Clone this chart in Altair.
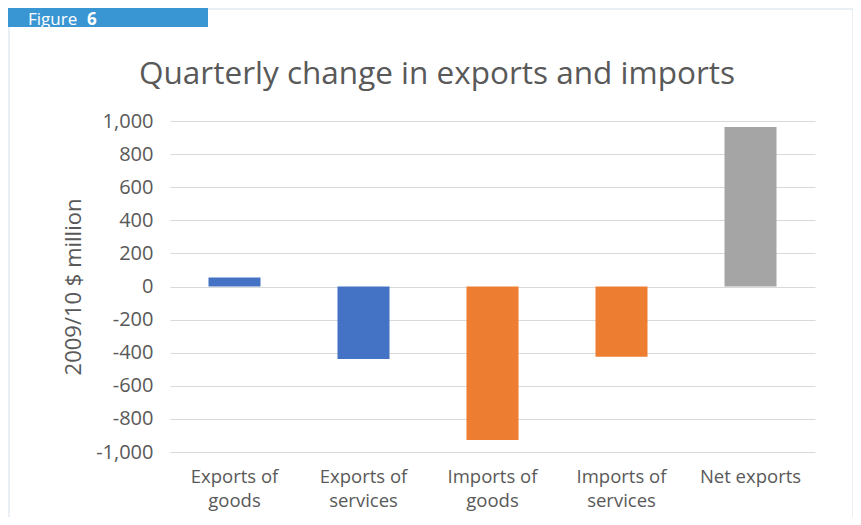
import altair as alt
import pandas as pd

categories = ["Exports of\ngoods", "Exports of\nservices", "Imports of\ngoods", "Imports of\nservices", "Net exports"]
values = [55, -438, -927, -425, 964]
colors = ["#4472C4", "#4472C4", "#ED7D31", "#ED7D31", "#A5A5A5"]
y_ticks = [-1000, -800, -600, -400, -200, 0, 200, 400, 600, 800, 1000]
title_text = "Quarterly change in exports and imports"

df = pd.DataFrame({"cat": categories, "val": values, "col": colors})

FONT = "Open Sans"
TXT = "#595959"
PL, PT, W, H = 162, 113, 645, 331

one = pd.DataFrame({"a": [0]})

frame = alt.Chart(one).mark_rect(fill="transparent", stroke="#E4EAF3", strokeWidth=1.5, clip=False).encode(
    x=alt.value(-PL + 1), x2=alt.value(W + 38), y=alt.value(-PT + 1), y2=alt.value(H + 80)
)
badge = alt.Chart(one).mark_rect(fill="#3A96D2", clip=False).encode(
    x=alt.value(-PL), x2=alt.value(-PL + 200), y=alt.value(-PT - 8), y2=alt.value(-PT + 19)
)
badge_txt = alt.Chart(one).mark_text(text="Figure", font=FONT, fontSize=17, color="white",
                                     align="left", baseline="alphabetic", clip=False).encode(
    x=alt.value(-PL + 20), y=alt.value(-PT + 17)
)
badge_num = alt.Chart(one).mark_text(text="6", font=FONT, fontSize=17, fontWeight="bold", color="white",
                                     align="left", baseline="alphabetic", clip=False).encode(
    x=alt.value(-PL + 79), y=alt.value(-PT + 17)
)
title = alt.Chart(one).mark_text(text=title_text, font=FONT, fontSize=31.5, color=TXT,
                                 align="center", baseline="middle", clip=False).encode(
    x=alt.value(267), y=alt.value(-46)
)

label_expr = "datum.value < 0 ? '-' + format(-datum.value, ',.0f') : format(datum.value, ',.0f')"

bars = alt.Chart(df).mark_bar(size=52).encode(
    x=alt.X("cat:N", sort=categories, scale=alt.Scale(paddingInner=0, paddingOuter=0),
            axis=alt.Axis(title=None, labelAngle=0, labelExpr="split(datum.label, '\\n')",
                          labelLineHeight=24, labelPadding=15, ticks=False, domain=False,
                          labelFont=FONT, labelFontSize=18.5, labelColor=TXT, grid=False,
                          labelBaseline="top")),
    y=alt.Y("val:Q", scale=alt.Scale(domain=[-1000, 1000], nice=False),
            axis=alt.Axis(title="2009/10 $ million", values=y_ticks, labelExpr=label_expr, ticks=False,
                          domain=False, labelPadding=17, labelFont=FONT, labelFontSize=20,
                          labelColor=TXT, gridColor="#D9D9D9", gridWidth=1,
                          titleFont=FONT, titleFontSize=22, titleFontWeight="normal", titleColor=TXT,
                          titleX=-97, titleY=H / 2, titleAngle=-90, titleAlign="center",
                          titleBaseline="middle")),
    color=alt.Color("col:N", scale=None, legend=None),
)

chart = alt.layer(frame, badge, badge_txt, badge_num, title, bars).properties(
    width=W, height=H,
    padding={"left": PL, "top": PT, "right": 38, "bottom": 65},
    autosize=alt.AutoSizeParams(type="none"),
).configure_view(stroke=None)

chart.save("out.html", embed_options={"renderer": "svg", "actions": False})
